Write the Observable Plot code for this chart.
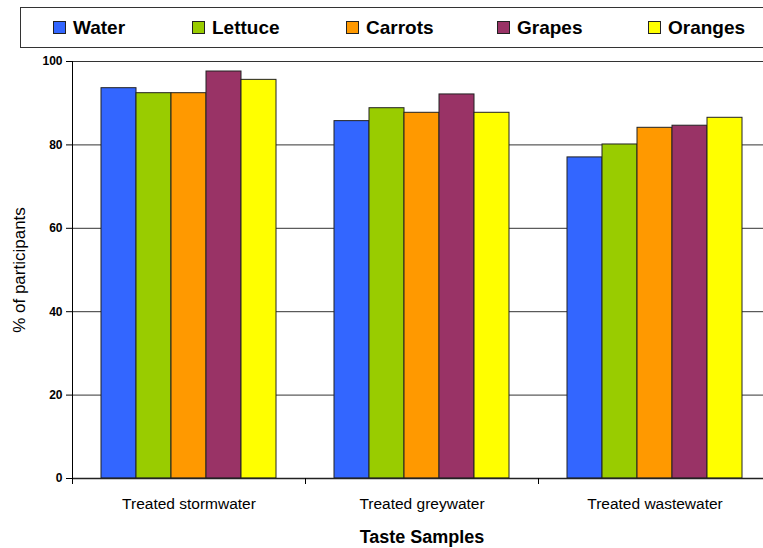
<!DOCTYPE html>
<html><head><meta charset="utf-8">
<script src="https://cdn.jsdelivr.net/npm/d3@7"></script>
<script src="https://cdn.jsdelivr.net/npm/@observablehq/plot@0.6"></script>
<style>
body{margin:0;width:763px;height:548px;overflow:hidden;background:#fff;font-family:"Liberation Sans",Arial,sans-serif;position:relative;}
#legend{position:absolute;left:20px;top:7px;width:800px;height:39px;border:1px solid #333;box-sizing:content-box;}
.item{position:absolute;top:0;height:39px;display:flex;align-items:center;font-weight:bold;font-size:19px;color:#000;}
.sw{width:11px;height:11px;border:1px solid #222;margin-right:7px;}
#chart{position:absolute;left:0;top:50px;}
#chart svg{max-width:none !important;overflow:hidden;}
#chart svg text{font-family:"Liberation Sans",Arial,sans-serif;}
g[aria-label="y-axis tick label"]{font-weight:bold;font-size:12px;}
g[aria-label="y-axis label"]{font-size:17px;}
g[aria-label="fx-axis tick label"]{font-size:15.5px;}
g[aria-label="fx-axis label"]{font-size:18px;font-weight:bold;}
</style>
</head><body>
<div id="legend"></div>
<div id="chart"></div>
<script>
const groups = ["Treated stormwater", "Treated greywater", "Treated wastewater"];
const series = ["Water", "Lettuce", "Carrots", "Grapes", "Oranges"];
const colors = ["#3366FF", "#99CC00", "#FF9900", "#993366", "#FFFF00"];
const water   = [93.6, 85.7, 77.0];
const lettuce = [92.4, 88.8, 80.1];
const carrots = [92.4, 87.7, 84.1];
const grapes  = [97.6, 92.1, 84.6];
const oranges = [95.6, 87.7, 86.5];
const yTicks = [0, 20, 40, 60, 80, 100];
const yLabel = "% of participants";
const xLabel = "Taste Samples";

const valuesBySeries = [water, lettuce, carrots, grapes, oranges];
const data = [];
groups.forEach((g, gi) => series.forEach((s, si) => data.push({group: g, series: s, value: valuesBySeries[si][gi]})));

// legend (HTML, above the SVG)
const legendLeft = [32, 171, 325, 476, 627];
const legend = document.getElementById("legend");
series.forEach((s, i) => {
  const it = document.createElement("div");
  it.className = "item";
  it.style.left = legendLeft[i] + "px";
  const sw = document.createElement("span");
  sw.className = "sw";
  sw.style.background = colors[i];
  it.appendChild(sw);
  it.appendChild(document.createTextNode(s));
  legend.appendChild(it);
});

const W = 771, ML = 72, MR = 0;
const bandHalf = (W - ML - MR) / groups.length / 2;

const chart = Plot.plot({
  width: W, height: 498,
  marginLeft: ML, marginRight: MR, marginTop: 11, marginBottom: 70,
  style: {fontFamily: "Liberation Sans, Arial, sans-serif", color: "#000", background: "#fff"},
  fx: {domain: groups, padding: 0, label: null},
  x: {domain: series, paddingInner: 0, paddingOuter: 0.75, axis: null},
  y: {domain: [0, 100], label: null},
  color: {domain: series, range: colors},
  marks: [
    Plot.gridY(yTicks.filter(d => d > 0), {stroke: "#333", strokeOpacity: 1}),
    Plot.barY(data, {fx: "group", x: "series", y: "value", fill: "series", stroke: "#222", strokeWidth: 1, inset: 0}),
    Plot.ruleY([0], {stroke: "#222", strokeWidth: 1.5}),
    Plot.frame({anchor: "left", facet: "super", stroke: "#000"}),
    Plot.axisY({ticks: yTicks, tickSize: 6, tickPadding: 4, label: yLabel, labelAnchor: "center", labelOffset: 60, labelArrow: "none"}),
    Plot.axisFx({anchor: "bottom", tickSize: 0, tickPadding: 19, label: xLabel, labelAnchor: "center", labelOffset: 64, labelArrow: "none"}),
    Plot.axisFx({anchor: "bottom", tickSize: 6, tickFormat: () => "", dx: -bandHalf, label: null})
  ]
});
document.getElementById("chart").appendChild(chart);
</script>
</body></html>
